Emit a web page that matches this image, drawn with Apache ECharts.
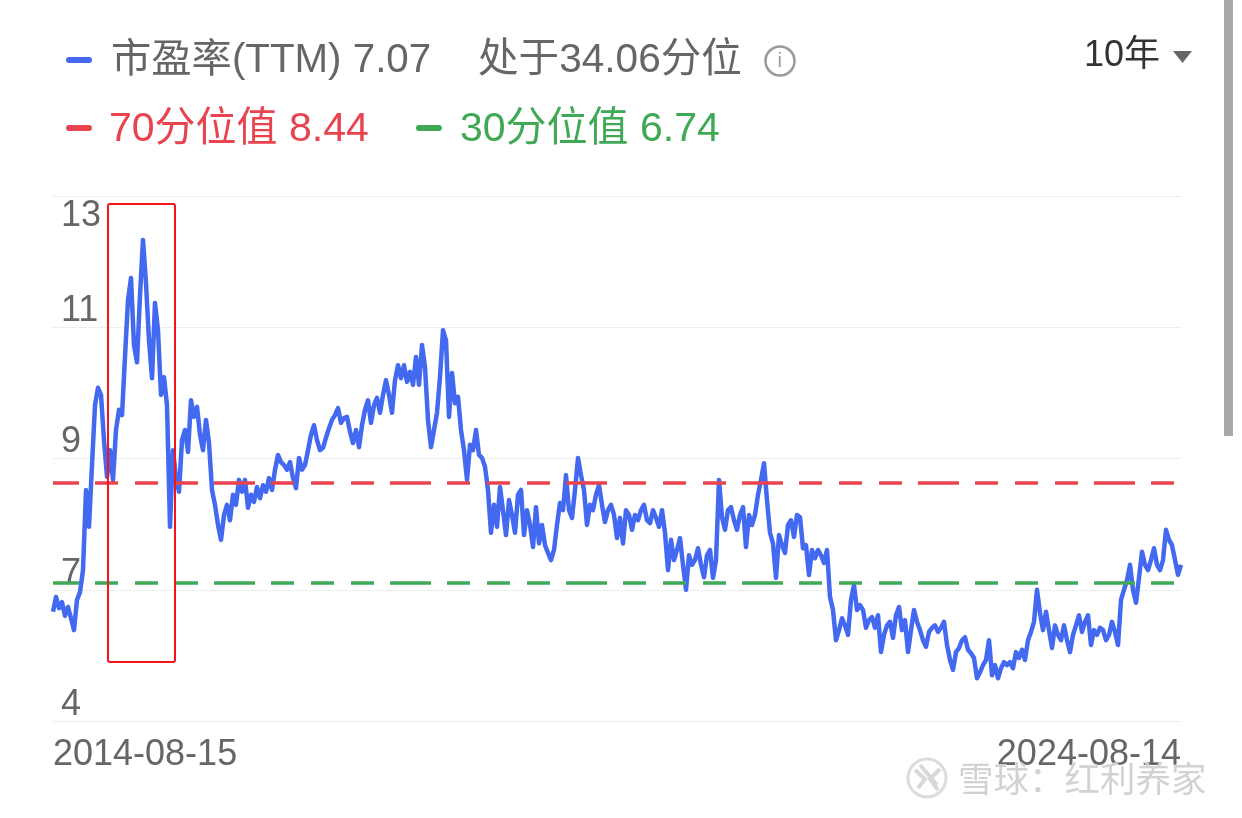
<!DOCTYPE html>
<html><head><meta charset="utf-8">
<style>html,body{margin:0;padding:0;background:#fff}#c{width:1242px;height:818px}</style>
<script src="https://cdn.jsdelivr.net/npm/echarts@6/dist/echarts.min.js"></script>
</head><body><div id="c"></div>
<script>
const startDate = '2014-08-15';
const endDate = '2024-08-14';
const peValues = [6.26,6.51,6.32,6.42,6.19,6.34,6.15,5.95,6.46,6.59,6.96,8.31,7.69,8.73,9.74,10.03,9.91,9.15,8.53,8.98,8.48,9.32,9.66,9.57,10.55,11.51,11.88,10.75,10.46,11.59,12.52,11.79,10.83,10.19,11.46,11.00,9.91,10.21,9.74,7.69,8.98,8.51,8.28,9.15,9.32,8.95,9.82,9.54,9.71,9.24,8.98,9.49,9.10,8.31,8.06,7.72,7.47,7.89,8.06,7.80,8.23,8.06,8.48,8.28,8.48,8.01,8.23,8.11,8.36,8.17,8.39,8.28,8.51,8.31,8.65,8.90,8.78,8.73,8.65,8.78,8.51,8.34,8.85,8.65,8.73,8.98,9.24,9.40,9.15,8.98,9.02,9.19,9.35,9.49,9.57,9.69,9.44,9.52,9.54,9.29,9.10,9.32,9.03,9.40,9.66,9.82,9.44,9.74,9.86,9.61,9.91,10.16,9.91,9.61,10.16,10.41,10.19,10.41,10.13,10.30,10.08,10.55,10.08,10.75,10.38,9.49,9.03,9.32,9.61,10.21,11.00,10.83,9.54,10.28,9.77,9.88,9.32,8.98,8.48,9.07,8.98,9.32,8.90,8.85,8.70,8.31,7.59,8.06,7.69,8.36,7.97,7.55,8.14,7.89,7.59,8.23,8.31,7.55,7.97,7.72,7.35,8.02,7.41,7.72,7.38,7.25,7.13,7.30,7.72,8.09,7.97,8.56,7.97,7.84,8.31,8.85,8.56,8.31,7.72,8.06,7.97,8.23,8.39,8.06,7.77,7.97,8.06,7.89,7.50,7.84,7.41,7.97,7.89,7.64,7.89,7.80,7.97,8.06,7.80,7.75,7.97,7.84,7.69,7.97,7.59,6.96,7.47,7.13,7.30,7.50,7.05,6.63,7.21,7.05,7.13,7.33,7.05,6.84,7.21,7.30,6.83,7.13,8.48,7.85,7.64,7.97,8.02,7.80,7.64,7.89,8.02,7.35,7.89,7.72,7.89,8.23,8.48,8.76,8.14,7.59,7.41,6.83,7.55,7.38,7.25,7.72,7.80,7.52,7.89,7.85,7.33,7.38,6.88,7.30,7.16,7.30,7.21,7.08,7.30,6.51,6.29,5.78,5.95,6.15,6.03,5.87,6.46,6.71,6.29,6.37,6.29,5.99,6.12,6.17,5.99,6.20,5.58,5.87,6.03,6.09,5.82,6.20,6.34,5.95,6.12,5.58,5.95,6.29,6.09,5.95,5.78,5.67,5.92,5.99,6.03,5.92,5.99,6.09,5.70,5.45,5.28,5.58,5.65,5.78,5.83,5.62,5.56,5.48,5.14,5.24,5.36,5.45,5.78,5.19,5.36,5.14,5.31,5.41,5.36,5.41,5.31,5.58,5.48,5.62,5.45,5.78,5.92,6.09,6.63,6.24,5.95,6.26,5.95,5.65,6.03,5.87,5.78,6.03,5.78,5.58,5.87,6.03,6.20,5.92,6.09,6.20,5.70,5.95,5.87,5.99,5.95,5.78,5.87,6.09,5.92,5.70,6.46,6.63,6.79,7.05,6.63,6.41,6.83,7.27,7.05,6.96,7.13,7.33,7.05,6.96,7.13,7.64,7.47,7.38,7.13,6.88,7.05];
const p70 = 8.44;
const p30 = 6.74;
const legendPe = '市盈率(TTM) 7.07';
const legendPct = '处于34.06分位';
const legend70 = '70分位值 8.44';
const legend30 = '30分位值 6.74';
const rangeLabel = '10年';
const watermark = '雪球：红利养家';

const t0 = Date.parse(startDate), t1 = Date.parse(endDate);
const categories = peValues.map((_, i) => {
  if (i === peValues.length - 1) return endDate;
  return new Date(t0 + (t1 - t0) * i / (peValues.length - 1)).toISOString().slice(0, 10);
});
const FONT = '"Liberation Sans","Noto Sans CJK SC",sans-serif';
const BLUE = '#4269ef', RED = '#e8434f', GREEN = '#3fa956';
const DASH = [41,16,23,17,23,17,23,16];
function txt(x, y, text, fill, size) {
  return {type:'text', x, y, z:20, style:{text, fill, font:`${size||40}px ${FONT}`, textVerticalAlign:'middle', textBaseline:'middle'}};
}
function dash(x, y, fill) {
  return {type:'rect', z:20, shape:{x, y:y-3, width:26, height:6, r:3}, style:{fill}};
}
const chart = echarts.init(document.getElementById('c'), null, {renderer:'canvas'});
chart.setOption({
  animation:false,
  backgroundColor:'#fff',
  grid:{left:53, top:196, width:1128, height:525, containLabel:false},
  xAxis:{type:'category', data:categories, boundaryGap:false,
    axisLine:{lineStyle:{color:'#eeeeee', width:1}}, axisTick:{show:false}, splitLine:{show:false},
    axisLabel:{interval:(i)=> i===0 || i===peValues.length-1, color:'#666', fontSize:36, fontFamily:FONT, margin:16,
      alignMinLabel:'left', alignMaxLabel:'right', showMinLabel:true, showMaxLabel:true, hideOverlap:false}},
  yAxis:{type:'value', min:4.42, max:13.26, interval:2.21, 
    axisLine:{show:false}, axisTick:{show:false},
    splitLine:{lineStyle:{color:'#eeeeee', width:1}},
    axisLabel:{inside:true, margin:8, color:'#666', fontSize:36, fontFamily:FONT, verticalAlign:'bottom', verticalAlignMaxLabel:'top',
      lineHeight:32, padding:[4,0,0,0],
      formatter:(v)=> String(Math.round(v))}},
  series:[{
    type:'line', data:peValues, showSymbol:false, symbol:'none', smooth:false, sampling:false, z:3,
    lineStyle:{color:BLUE, width:4.5, join:'round'},
    markLine:{silent:true, symbol:'none', label:{show:false}, animation:false, z:4,
      data:[
        {yAxis:p70, lineStyle:{color:RED, width:3.5, type:DASH, dashOffset:15}},
        {yAxis:p30, lineStyle:{color:GREEN, width:3.5, type:DASH, dashOffset:15}}
      ]}
  }],
  graphic:[
    dash(66,60,BLUE),
    txt(111,61,legendPe,'#666',40.3),
    txt(478,61,legendPct,'#666',40.6),
    {type:'circle', z:20, shape:{cx:780,cy:61,r:14.5}, style:{fill:'none', stroke:'#9a9a9a', lineWidth:2.5}},
    txt(777.5,61,'i','#9a9a9a',20),
    dash(66,128,RED),
    txt(109,130,legend70,RED,41),
    dash(416,128,GREEN),
    txt(460,130,legend30,GREEN,41),
    txt(1084,56,rangeLabel,'#333',36),
    {type:'polygon', z:20, shape:{points:[[1173,51],[1192,51],[1182.5,63]]}, style:{fill:'#666'}},
    {type:'rect', z:20, shape:{x:1224,y:0,width:9,height:436}, style:{fill:'#a8a8a8'}},
    {type:'rect', z:25, shape:{x:108,y:204,width:67,height:458,r:2}, style:{fill:'none', stroke:'#f5141a', lineWidth:2}},
    {type:'circle', z:22, shape:{cx:927,cy:778,r:19}, style:{fill:'rgba(255,255,255,.6)', stroke:'#dcdcdc', lineWidth:3}},
    {type:'polyline', z:22, shape:{points:[[915,770],[925,779],[918,788]]}, style:{fill:'none', stroke:'#d8d8d8', lineWidth:4}},
    {type:'polyline', z:22, shape:{points:[[920,765],[937,785]]}, style:{fill:'none', stroke:'#d8d8d8', lineWidth:4}},
    {type:'polyline', z:22, shape:{points:[[940,769],[930,779],[938,790]]}, style:{fill:'none', stroke:'#d8d8d8', lineWidth:4}},
    {type:'text', x:958, y:779, z:22, style:{text:watermark, fill:'rgba(205,205,205,.9)', font:`35.5px "Noto Sans CJK SC",sans-serif`, textVerticalAlign:'middle', textBaseline:'middle', stroke:'rgba(255,255,255,.7)', lineWidth:1}}
  ]
});
</script></body></html>
